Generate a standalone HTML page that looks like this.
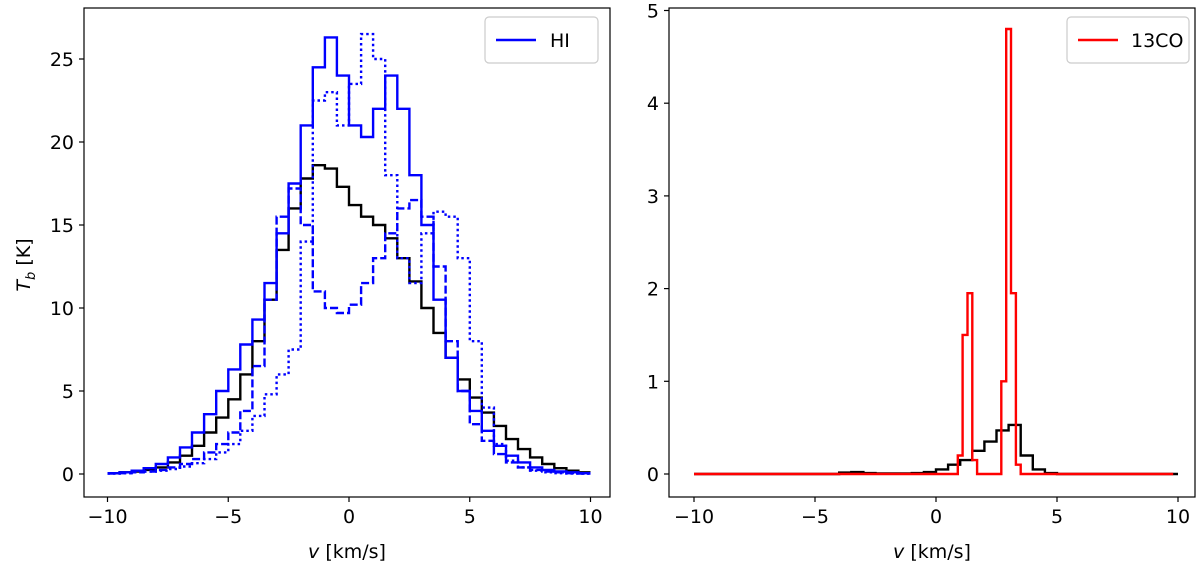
<!DOCTYPE html>
<html><head><meta charset="utf-8"><style>
html,body{margin:0;padding:0;background:#fff;}
svg{display:block;font-family:"DejaVu Sans","Liberation Sans",sans-serif;}
</style></head><body>
<svg id="fig" width="1200" height="575" viewBox="0 0 1200 575" xmlns="http://www.w3.org/2000/svg">
<rect x="0" y="0" width="1200" height="575" fill="#fff"/>
<g id="left"></g>
<g id="right"></g>
</svg>
<script>
// Left panel data: 0.5 km/s bins from -10 to 10
const binStart = -10, binWidth = 0.5;
const hiTotal = [0.05,0.1,0.15,0.25,0.4,0.7,1.1,1.7,2.5,3.4,4.5,6,8,10.5,13.5,16,17.8,18.6,18.4,17.3,16.2,15.5,15,14.2,13,11.6,10,8.5,7,5.7,4.6,3.7,2.9,2.1,1.5,1,0.6,0.35,0.2,0.1];
const hiSolid = [0.05,0.1,0.2,0.35,0.6,1,1.6,2.5,3.6,5,6.3,7.8,9.3,11.5,14.5,17.5,21,24.5,26.3,24,21,20.3,22,24,22,18,15,10.5,7,5,3.8,2.6,1.7,1.1,0.7,0.4,0.25,0.15,0.1,0.05];
const hiDashed = [0.03,0.05,0.1,0.15,0.25,0.4,0.6,0.9,1.3,1.8,2.5,3.8,6.5,10.5,15.5,17.2,15,11,10,9.7,10.2,11.5,13,14.5,16,16.5,15.5,12.5,8,5,3,2,1.2,0.7,0.4,0.25,0.15,0.1,0.05,0.03];
const hiDotted = [0.03,0.05,0.1,0.15,0.2,0.3,0.45,0.65,0.9,1.3,1.8,2.6,3.5,4.8,6,7.5,14,22.5,23,21,23.5,26.5,25,18,13,11.5,14.5,15.8,15.5,13,8,4,1.8,0.8,0.4,0.2,0.1,0.05,0.03,0.02];
const xTicks = [-10,-5,0,5,10];
const yTicksLeft = [0,5,10,15,20,25];
// Right panel data
const coTotal = [0,0,0,0,0,0,0,0,0,0,0,0,0.015,0.02,0.01,0.005,0.005,0.005,0.01,0.02,0.05,0.1,0.15,0.25,0.35,0.47,0.53,0.2,0.05,0.01,0,0,0,0,0,0,0,0,0,0];
const coV = [0.9,1.1,1.3,1.5,2.7,2.9,3.1,3.3];
const coT = [0.2,1.5,1.95,0.15,1.0,4.8,1.95,0.1];
const coBin = 0.2;
const yTicksRight = [0,1,2,3,4,5];

const NS='http://www.w3.org/2000/svg';
function mk(parent,tag,attrs,text){const e=document.createElementNS(NS,tag);for(const k in attrs)e.setAttribute(k,attrs[k]);if(text!==undefined)e.textContent=text;parent.appendChild(e);return e;}

function axes(g,fx,fy,L,R,T,B,yt){
  for(const t of xTicks){const x=fx(t);mk(g,'line',{x1:x,x2:x,y1:B,y2:B+5,stroke:'#000','stroke-width':1.2});
    const lb=mk(g,'text',{x:x,y:B+26,'font-size':19,'text-anchor':'middle'},(t<0?'\u2212'+(-t):''+t));
    }
  for(const t of yt){const y=fy(t);mk(g,'line',{x1:L-5,x2:L,y1:y,y2:y,stroke:'#000','stroke-width':1.2});
    const lb=mk(g,'text',{x:L-10,y:y+7,'font-size':19,'text-anchor':'end'},''+t);
    }
  const xt=mk(g,'text',{x:(L+R)/2,y:558,'font-size':19,'text-anchor':'middle'});
  
  mk(xt,'tspan',{'font-style':'italic'},'v');mk(xt,'tspan',{},' [km/s]');
}
function frame(g,L,R,T,B){const f=mk(g,'rect',{x:L,y:T,width:R-L,height:B-T,fill:'none',stroke:'#000','stroke-width':1.2});
  }
function stepPath(starts,width,vals,fx,fy){
  let d='';
  for(let i=0;i<vals.length;i++){const x0=fx(starts(i)),x1=fx(starts(i)+width),y=fy(vals[i]);
    d+=(i===0?'M':'L')+x0.toFixed(1)+','+y.toFixed(1)+'L'+x1.toFixed(1)+','+y.toFixed(1);}
  return d;
}

// LEFT
(function(){
  const g=document.getElementById('left');
  const L=84,R=610,T=8,B=497;
  const fx=v=>349+24.15*v, fy=t=>474-16.6*t;
  axes(g,fx,fy,L,R,T,B,yTicksLeft);
  const series=[[hiTotal,'#000',null,'hi-total-line'],[hiDashed,'#0000ff','8,3','hi-dashed-line'],[hiDotted,'#0000ff','2.5,3','hi-dotted-line'],[hiSolid,'#0000ff',null,'hi-solid-line']];
  for(const s of series){
    const p=mk(g,'path',{d:stepPath(i=>binStart+i*binWidth,binWidth,s[0],fx,fy),fill:'none',stroke:s[1],'stroke-width':2.4,'stroke-linejoin':'miter'});
    if(s[2])p.setAttribute('stroke-dasharray',s[2]);
    
  }
  frame(g,L,R,T,B);
  const yl=mk(g,'text',{transform:'translate(30,265) rotate(-90)','font-size':19,'text-anchor':'middle'});
  
  mk(yl,'tspan',{'font-style':'italic'},'T');mk(yl,'tspan',{'font-style':'italic','font-size':13,dy:5},'b');mk(yl,'tspan',{dy:-5},' [K]');
  const lg=mk(g,'g',{});
  mk(lg,'rect',{x:485,y:17,width:113,height:46,rx:4,fill:'#fff',stroke:'#ccc','stroke-width':1.2});
  mk(lg,'line',{x1:496,x2:536,y1:40,y2:40,stroke:'#0000ff','stroke-width':2.4});
  const lt=mk(lg,'text',{x:550,y:47,'font-size':19},'HI');
})();

// RIGHT
(function(){
  const g=document.getElementById('right');
  const L=669,R=1195,T=8,B=497;
  const fx=v=>936+24.2*v, fy=t=>474-92.7*t;
  axes(g,fx,fy,L,R,T,B,yTicksRight);
  const p=mk(g,'path',{d:stepPath(i=>binStart+i*binWidth,binWidth,coTotal,fx,fy),fill:'none',stroke:'#000','stroke-width':2.4});
  
  // red: zero baseline with contiguous narrow peaks
  let d='M'+fx(-10).toFixed(1)+','+fy(0).toFixed(1);
  for(let i=0;i<coV.length;i++){
    const x0=fx(coV[i]),x1=fx(coV[i]+coBin),y=fy(coT[i]);
    const contPrev = i>0 && Math.abs(coV[i-1]+coBin-coV[i])<1e-6;
    const contNext = i<coV.length-1 && Math.abs(coV[i]+coBin-coV[i+1])<1e-6;
    if(!contPrev) d+='L'+x0.toFixed(1)+','+fy(0).toFixed(1);
    d+='L'+x0.toFixed(1)+','+y.toFixed(1)+'L'+x1.toFixed(1)+','+y.toFixed(1);
    if(!contNext) d+='L'+x1.toFixed(1)+','+fy(0).toFixed(1);
  }
  d+='L'+fx(9.8).toFixed(1)+','+fy(0).toFixed(1);
  const r=mk(g,'path',{d:d,fill:'none',stroke:'#ff0000','stroke-width':2.4});
  
  frame(g,L,R,T,B);
  const lg=mk(g,'g',{});
  mk(lg,'rect',{x:1067,y:17,width:122,height:46,rx:4,fill:'#fff',stroke:'#ccc','stroke-width':1.2});
  mk(lg,'line',{x1:1078,x2:1118,y1:40,y2:40,stroke:'#ff0000','stroke-width':2.4});
  const lt=mk(lg,'text',{x:1131,y:47,'font-size':19},'13CO');
})();
</script>
</body></html>
